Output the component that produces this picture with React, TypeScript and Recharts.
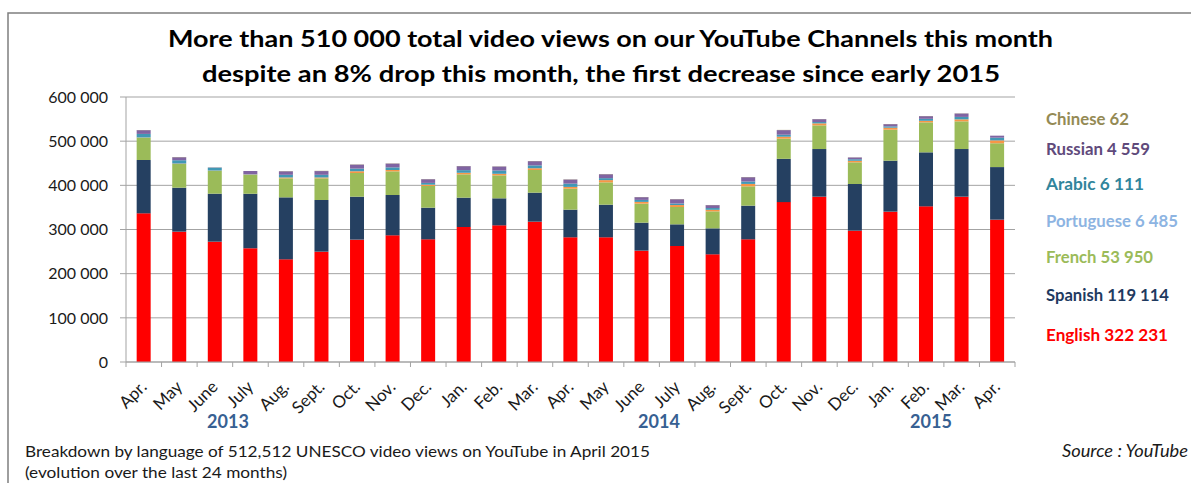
import { BarChart, Bar, XAxis, YAxis, CartesianGrid } from 'recharts';

// 24 months of UNESCO YouTube views, by language (Apr 2013 - Apr 2015)
const periods = [
  '2013-04', '2013-05', '2013-06', '2013-07', '2013-08', '2013-09', '2013-10', '2013-11', '2013-12',
  '2014-01', '2014-02', '2014-03', '2014-04', '2014-05', '2014-06', '2014-07', '2014-08', '2014-09',
  '2014-10', '2014-11', '2014-12', '2015-01', '2015-02', '2015-03', '2015-04',
];
const months = [
  'Apr.', 'May', 'June', 'July', 'Aug.', 'Sept.', 'Oct.', 'Nov.', 'Dec.',
  'Jan.', 'Feb.', 'Mar.', 'Apr.', 'May', 'June', 'July', 'Aug.', 'Sept.',
  'Oct.', 'Nov.', 'Dec.', 'Jan.', 'Feb.', 'Mar.', 'Apr.',
];
const english = [
  336600, 295100, 272400, 257300, 232400, 249800, 277000, 286800, 277700,
  305700, 309400, 317700, 282300, 282300, 252100, 262600, 243800, 277700,
  362000, 374300, 297300, 340400, 352400, 374300, 322231,
];
const spanish = [
  120700, 99600, 108700, 123800, 140400, 117000, 97300, 91300, 71700,
  66400, 61200, 65700, 62600, 73900, 63400, 49100, 58800, 76300,
  98000, 107900, 105700, 115400, 122300, 107900, 119114,
];
const french = [
  50600, 53600, 52100, 43000, 43000, 49000, 53600, 53600, 49100,
  52800, 52000, 51300, 47500, 50600, 43000, 39200, 38500, 43700,
  45600, 53600, 49100, 70200, 67900, 62700, 53950,
];
const portuguese = [
  500, 1000, 300, 300, 2000, 2000, 4000, 3000, 3000,
  3500, 3500, 4000, 4000, 5000, 4000, 4500, 3500, 5500,
  4500, 4500, 3500, 4500, 3500, 4500, 6485,
];
const arabic = [
  8000, 7500, 6500, 500, 6000, 6000, 6000, 6000, 4000,
  6000, 7500, 6500, 7500, 4500, 4500, 3500, 4000, 5500,
  4500, 3000, 3500, 3000, 4500, 5500, 6111,
];
const russian = [
  8500, 6800, 500, 7500, 8000, 8500, 9000, 8500, 8300,
  9000, 9000, 9500, 9200, 8800, 6200, 9600, 6500, 9700,
  10400, 6500, 4000, 5000, 6000, 7700, 4559,
];
const chinese = [
  400, 500, 300, 300, 500, 500, 500, 500, 400,
  400, 400, 400, 500, 500, 400, 500, 400, 500,
  500, 400, 300, 400, 400, 400, 62,
];

const yTicks = [0, 100000, 200000, 300000, 400000, 500000, 600000];
const years = ['2013', '2014', '2015'];

// stacking order, bottom to top
const series = [
  { key: 'english', name: 'English', values: english, fill: '#FF0000', label: '#FF0000' },
  { key: 'spanish', name: 'Spanish', values: spanish, fill: '#254061', label: '#1F3A60' },
  { key: 'french', name: 'French', values: french, fill: '#9BBB59', label: '#9BBB59' },
  { key: 'portuguese', name: 'Portuguese', values: portuguese, fill: '#F79646', label: '#8DB4E2' },
  { key: 'arabic', name: 'Arabic', values: arabic, fill: '#4198B5', label: '#31859C' },
  { key: 'russian', name: 'Russian', values: russian, fill: '#8064A2', label: '#604A7B' },
  { key: 'chinese', name: 'Chinese', values: chinese, fill: '#948A54', label: '#948A54' },
];

const data = periods.map((period, i) => {
  const row: Record<string, string | number> = { period, month: months[i] };
  series.forEach((s) => {
    row[s.key] = s.values[i];
  });
  return row;
});

const fmt = (v: number) => String(v).replace(/\B(?=(\d{3})+(?!\d))/g, ' ');

// layout
const W = 1191;
const H = 483;
const Y_AXIS_W = 126;
const X_AXIS_H = 121;
const MARGIN = { top: 97, right: 176, bottom: 0, left: 0 };
const PLOT_LEFT = Y_AXIS_W;
const PLOT_RIGHT = W - MARGIN.right;
const BAND = (PLOT_RIGHT - PLOT_LEFT) / periods.length;
const FONT = 'Lato, "Open Sans", sans-serif';
const GRID = '#a3a3a3';

// legend lines, top to bottom: baseline y and drawn width
const legendLayout = [
  { key: 'chinese', y: 125, w: 83 },
  { key: 'russian', y: 155, w: 104 },
  { key: 'arabic', y: 190, w: 98 },
  { key: 'portuguese', y: 227, w: 132 },
  { key: 'french', y: 263, w: 107 },
  { key: 'spanish', y: 301, w: 123 },
  { key: 'english', y: 341, w: 122 },
];
const yearLayout = [228, 659, 931];

function MonthTick(props: any) {
  const { x, y, payload } = props;
  const i = periods.indexOf(payload.value);
  const left = x - BAND / 2;
  const ax = x + 4;
  const ay = y + 26;
  return (
    <g>
      <line x1={left} x2={left} y1={y} y2={y + 5} stroke={GRID} />
      {i === periods.length - 1 && (
        <line x1={x + BAND / 2} x2={x + BAND / 2} y1={y} y2={y + 5} stroke={GRID} />
      )}
      <text
        x={ax}
        y={ay}
        transform={`rotate(-45, ${ax}, ${ay})`}
        textAnchor="end"
        fontSize={17}
        fontFamily={FONT}
        fill="#1a1a1a"
      >
        {months[i]}
      </text>
    </g>
  );
}

export default function App() {
  const last = periods.length - 1;
  return (
    <div style={{ position: 'absolute', left: 0, top: 0, width: W, height: H, background: '#fff' }}>
      <BarChart width={W} height={H} data={data} margin={MARGIN} barCategoryGap="30%">
        <CartesianGrid vertical={false} stroke={GRID} />
        <XAxis
          dataKey="period"
          height={X_AXIS_H}
          interval={0}
          tickSize={0}
          tickMargin={0}
          tickLine={false}
          axisLine={{ stroke: GRID }}
          tick={<MonthTick />}
        />
        <YAxis
          width={Y_AXIS_W}
          domain={[0, 600000]}
          ticks={yTicks}
          tickFormatter={fmt}
          tickSize={6}
          tickMargin={12}
          axisLine={{ stroke: GRID }}
          tickLine={{ stroke: GRID }}
          tick={{ fontSize: 16, fill: '#1a1a1a', fontFamily: FONT }}
        />
        {series.map((s) => (
          <Bar key={s.key} dataKey={s.key} name={s.name} stackId="lang" fill={s.fill} isAnimationActive={false} />
        ))}
      </BarChart>

      <svg
        width={W}
        height={H}
        style={{ position: 'absolute', left: 0, top: 0, pointerEvents: 'none' }}
        fontFamily={FONT}
      >
        <polyline points={`8,${H} 8,13 ${W},13`} fill="none" stroke="#7f7f7f" strokeWidth={1.5} />

        <text x={168} y={47} fontSize={23} fontWeight="bold" fill="#000" textLength={885} lengthAdjust="spacingAndGlyphs">
          More than 510 000 total video views on our YouTube Channels this month
        </text>
        <text x={202} y={82} fontSize={23} fontWeight="bold" fill="#000" textLength={798} lengthAdjust="spacingAndGlyphs">
          despite an 8% drop this month, the first decrease since early 2015
        </text>

        {legendLayout.map((l) => {
          const s = series.find((d) => d.key === l.key)!;
          return (
            <text
              key={l.key}
              x={1046}
              y={l.y}
              fontSize={17}
              fontWeight="bold"
              fill={s.label}
              textLength={l.w}
              lengthAdjust="spacingAndGlyphs"
            >
              {`${s.name} ${fmt(s.values[last])}`}
            </text>
          );
        })}

        {years.map((yr, i) => (
          <text key={yr} x={yearLayout[i]} y={428} textAnchor="middle" fontSize={18} fontWeight="bold" fill="#376092">
            {yr}
          </text>
        ))}

        <text x={25} y={457} fontSize={16} fill="#1a1a1a" textLength={625} lengthAdjust="spacingAndGlyphs">
          Breakdown by language of 512,512 UNESCO video views on YouTube in April 2015
        </text>
        <text x={25} y={478} fontSize={16} fill="#1a1a1a" textLength={262} lengthAdjust="spacingAndGlyphs">
          (evolution over the last 24 months)
        </text>
        <text x={1062} y={457} fontSize={16.5} fontStyle="italic" fill="#1a1a1a" textLength={126} lengthAdjust="spacingAndGlyphs">
          Source : YouTube
        </text>
      </svg>
    </div>
  );
}
